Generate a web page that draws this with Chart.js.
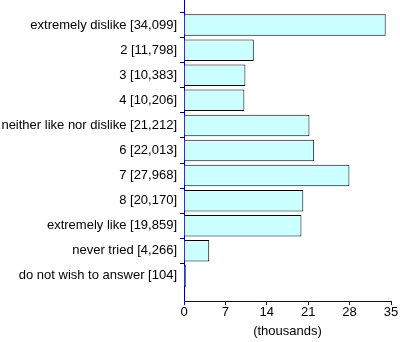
<!DOCTYPE html>
<html>
<head>
<meta charset="utf-8">
<script src="https://cdn.jsdelivr.net/npm/chart.js@4/dist/chart.umd.min.js"></script>
<style>
  html, body { margin: 0; padding: 0; background: #fff; }
  #wrap { width: 400px; height: 342px; }
</style>
</head>
<body>
<div id="wrap"><canvas id="barChart"></canvas></div>
<script>
const categories = ['extremely dislike [34,099]', '2 [11,798]', '3 [10,383]', '4 [10,206]',
  'neither like nor dislike [21,212]', '6 [22,013]', '7 [27,968]', '8 [20,170]',
  'extremely like [19,859]', 'never tried [4,266]', 'do not wish to answer [104]'];
const counts = [34.099, 11.798, 10.383, 10.206, 21.212, 22.013, 27.968, 20.170, 19.859, 4.266, 0.104];
const xTicks = [0, 7, 14, 21, 28, 35];

const navy = '#000080';

// empty slot above and below, like the original plot
const labels = [''].concat(categories, ['']);
const values = [null].concat(counts, [null]);

const ctx = document.querySelector('#barChart').getContext('2d');

Chart.defaults.font.family = '"Liberation Sans", Arial, sans-serif';
Chart.defaults.font.size = 13;
Chart.defaults.color = '#000';

let barChart = new Chart(ctx, {
    type: 'bar',
    data: {
        labels: labels,
        datasets: [{
            data: values,
            backgroundColor: '#CCFFFF',
            borderColor: '#000',
            borderWidth: 1,
            minBarLength: 2,
            barPercentage: 0.86,
            categoryPercentage: 1
        }]
    },
    options: {
        indexAxis: 'y',
        responsive: true,
        maintainAspectRatio: false,
        animation: false,
        layout: {
            padding: { left: 0, right: 9, top: 0, bottom: 0 }
        },
        plugins: {
            legend: { display: false },
            tooltip: { enabled: false }
        },
        scales: {
            y: {
                type: 'category',
                offset: false,
                afterFit: (scale) => {
                    scale.width = 184;
                    scale.paddingTop = 0;
                    scale.paddingBottom = 0;
                },
                grid: {
                    drawOnChartArea: false,
                    drawTicks: true,
                    tickLength: 4,
                    tickColor: (c) => (c.tick && c.tick.label === '') ? 'rgba(0,0,0,0)' : navy
                },
                border: { color: navy, width: 1 },
                ticks: {
                    padding: 3,
                    autoSkip: false,
                    color: '#000'
                }
            },
            x: {
                type: 'linear',
                min: 0,
                max: 35,
                afterBuildTicks: (scale) => { scale.ticks = xTicks.map(v => ({ value: v })); },
                afterFit: (scale) => {
                    scale.height = 41;
                    scale.paddingLeft = 0;
                    scale.paddingRight = 0;
                },
                grid: {
                    drawOnChartArea: false,
                    drawTicks: true,
                    tickLength: 4,
                    tickColor: navy
                },
                border: { color: navy, width: 1 },
                ticks: {
                    padding: 0,
                    maxRotation: 0,
                    color: '#000'
                },
                title: {
                    display: true,
                    text: '(thousands)',
                    color: '#000',
                    padding: { top: 0, bottom: 3 }
                }
            }
        }
    }
});
</script>
</body>
</html>
